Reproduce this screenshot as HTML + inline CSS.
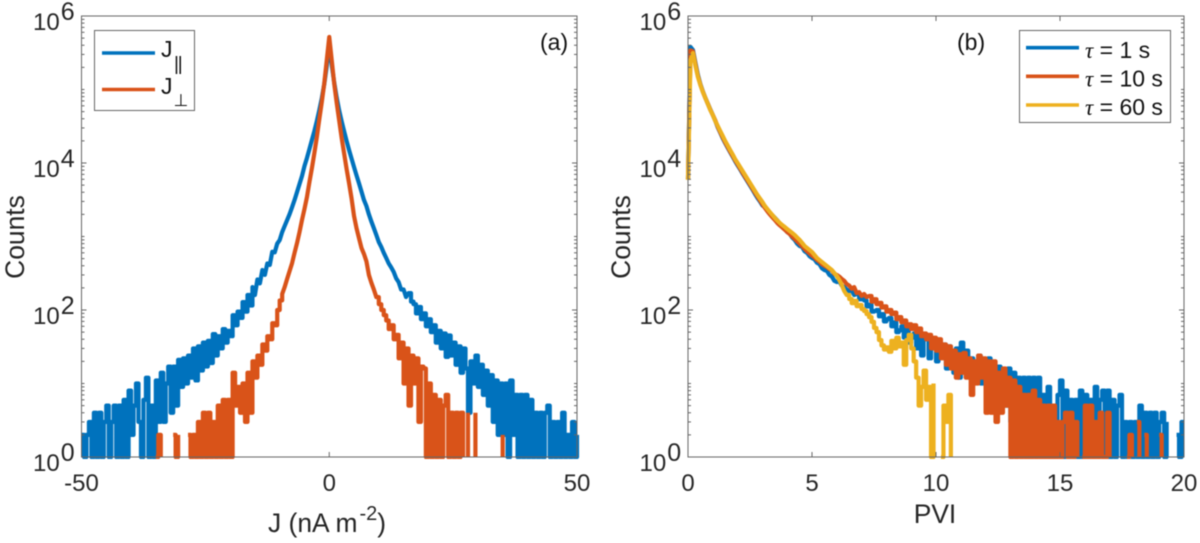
<!DOCTYPE html>
<html lang="en">
<head>
<meta charset="utf-8">
<title>Current density and PVI histograms</title>
<style>
html,body{margin:0;padding:0;background:#fff;width:1200px;height:543px;overflow:hidden}
svg{display:block;filter:blur(0.4px)}
text{font-family:"Liberation Sans",Arial,sans-serif;fill:#262626}
.tick{font-size:24px}
.exp{font-size:25px}
.lab{font-size:26.4px}
.leg{font-size:23px;fill:#111}
</style>
</head>
<body>
<svg id="figure" xmlns="http://www.w3.org/2000/svg" width="1200" height="543" viewBox="0 0 1200 543">
  <defs>
    <clipPath id="clipA"><rect x="76" y="10" width="506" height="449"/></clipPath>
    <clipPath id="clipB"><rect x="684" y="10" width="504" height="449"/></clipPath>
  </defs>
  <rect x="0" y="0" width="1200" height="543" fill="#fff"/>
  <g id="panelA"></g>
  <g id="panelB"></g>

  <text class="lab" x="268" y="532">J (nA m<tspan font-size="20" dx="2" dy="-12">-2</tspan><tspan dy="12">)</tspan></text>
  <text class="lab" transform="translate(24,237) rotate(-90)" text-anchor="middle">Counts</text>
  <text class="lab" x="935" y="523" text-anchor="middle">PVI</text>
  <text class="lab" transform="translate(630,237) rotate(-90)" text-anchor="middle">Counts</text>
  <text class="leg" x="540" y="50">(a)</text>
  <text class="leg" x="957" y="50">(b)</text>

  <g>
    <rect x="94.5" y="30.5" width="100" height="80" fill="#fff" stroke="#666" stroke-width="1"/>
    <line x1="102" x2="155" y1="53" y2="53" stroke="#0072BD" stroke-width="3.6"/>
    <text class="leg" x="161" y="57">J</text>
    <text x="174" y="70" font-size="19" letter-spacing="-1.2" style="fill:#111">||</text>
    <line x1="102" x2="155" y1="89.5" y2="89.5" stroke="#D95319" stroke-width="3.6"/>
    <text class="leg" x="161" y="94">J</text>
    <text x="173.5" y="106" font-size="17" style="font-family:'DejaVu Sans',sans-serif;fill:#111">⊥</text>
  </g>

  <g>
    <rect x="1019.5" y="30.5" width="151" height="92" fill="#fff" stroke="#666" stroke-width="1"/>
    <line x1="1026" x2="1079" y1="47.7" y2="47.7" stroke="#0072BD" stroke-width="3.6"/>
    <text class="leg" x="1085" y="58"><tspan font-family="Liberation Serif" font-style="italic">τ</tspan> = 1 s</text>
    <line x1="1026" x2="1079" y1="76.3" y2="76.3" stroke="#D95319" stroke-width="3.6"/>
    <text class="leg" x="1085" y="86.7"><tspan font-family="Liberation Serif" font-style="italic">τ</tspan> = 10 s</text>
    <line x1="1026" x2="1079" y1="105" y2="105" stroke="#EDB120" stroke-width="3.6"/>
    <text class="leg" x="1085" y="115"><tspan font-family="Liberation Serif" font-style="italic">τ</tspan> = 60 s</text>
  </g>
</svg>

<script>
// Tick values
const xTicksA = [-50, 0, 50];
const xTicksB = [0, 5, 10, 15, 20];
const yTickExponents = [0, 2, 4, 6];

// Bins
const jBinStart = -50;
const jBinStep = 0.5;
const pviBinStart = 0;
const pviBinStep = 0.1;

// Panel (a): counts per J bin
const jParallelCounts = [
  2,1,2,3,1,4,1,4,1,3,
  5,1,3,5,1,5,1,6,1,8,
  2,5,10,3,1,6,12,1,5,1,
  11,3,14,3,10,17,4,17,5,21,
  9,22,10,24,12,30,11,32,15,36,
  17,38,19,47,24,44,30,55,36,52,
  44,85,62,95,78,128,95,160,115,205,
  160,260,230,350,300,430,410,620,610,800,
  895,1150,1390,1676,2020,2510,3140,4030,5180,6650,
  9100,11700,15500,20600,27200,37300,52600,76600,119000,209000,
  443000,
  215000,125000,78000,52000,37000,27000,20000,15000,11500,8800,
  6800,5300,4100,3140,2600,2000,1600,1300,1050,840,
  720,600,510,430,380,330,270,240,190,190,
  150,170,130,120,90,110,75,90,60,75,
  50,62,36,52,30,48,23,45,24,36,
  18,32,14,30,16,4,20,10,24,9,
  18,7,15,5,13,3,11,2,10,2,
  10,1,11,2,7,1,7,1,7,1,
  6,1,4,1,4,1,4,5,1,3,
  1,3,1,4,1,2,1,3,1,2
];
const jPerpCounts = [
  0,0,0,0,0,0,0,0,0,0,
  0,0,0,0,0,0,0,0,0,0,
  0,0,0,0,0,0,1,0,0,0,
  1,2,1,0,0,0,0,2,1,2,
  0,0,0,2,1,2,1,3,1,4,
  1,4,1,3,1,5,1,6,1,6,
  1,14,5,9,4,10,3,14,4,20,
  12,24,18,34,28,44,40,66,62,100,
  135,165,205,265,340,435,600,815,1150,1680,
  2370,3440,5510,8530,13700,22600,39800,67600,122000,251000,
  518000,
  250000,120000,66000,38000,22000,13500,8300,5300,3300,1900,
  1300,950,700,580,460,300,235,190,150,120,
  100,85,72,55,62,40,46,22,36,10,
  30,5,24,10,22,3,17,16,1,10,
  1,7,1,6,1,5,7,1,4,1,
  4,1,4,1,0,4,0,0,4,0,
  0,0,0,0,0,0,0,0,0,2,
  0,0,0,0,0,0,0,0,0,0,
  0,0,0,0,0,0,0,0,0,0,
  0,0,0,0,0,0,0,0,0,0
];

// Panel (b): counts per PVI bin
const pviTau1Counts = [
  6000,380000,344000,230000,158000,118000,94000,77000,64000,53500,
  45000,37500,30500,25800,21700,18600,16100,14000,12200,10600,
  9300,8200,7200,6350,5600,4950,4350,3800,3350,3000,
  2650,2500,2330,2100,1950,1800,1660,1500,1400,1270,
  1150,1090,970,900,800,745,720,630,600,540,
  510,490,440,420,370,350,340,300,285,250,
  240,245,215,205,190,181,185,160,165,140,
  141,135,112,118,95,97,100,82,88,70,
  75,78,60,68,50,53,60,42,55,36,
  42,48,30,45,24,40,44,22,38,32,
  20,36,24,34,16,32,22,14,30,12,
  36,16,28,15,22,20,12,24,10,20,
  14,22,9,18,8,17,6,15,5,16,
  3,14,2,12,2,12,1,12,1,12,
  2,12,1,7,1,9,1,5,1,7,
  11,1,8,1,6,1,6,1,8,1,
  7,1,6,1,9,1,6,8,1,8,
  1,6,1,5,7,1,3,1,3,1,
  3,1,5,1,4,1,4,1,4,1,
  3,4,1,3,0,0,0,2,1,3,
  3
];
const pviTau10Counts = [
  6000,340000,330000,220000,152000,116000,93000,76500,64000,53000,
  45000,38000,31000,26200,22300,19000,16500,14300,12500,10900,
  9600,8400,7400,6500,5750,5100,4500,3950,3500,3100,
  2750,2450,2200,2000,1830,1680,1530,1420,1330,1240,
  1150,1080,1000,930,860,800,740,680,630,590,
  550,520,480,455,420,400,385,360,345,310,
  300,285,265,250,225,215,195,205,170,175,
  155,165,150,155,130,140,120,125,108,112,
  95,100,88,92,75,80,68,72,60,64,
  55,62,50,56,44,48,40,46,30,42,
  28,40,22,34,18,32,16,28,12,25,
  14,26,12,22,7,20,10,24,12,22,
  4,20,4,20,3,14,4,16,5,12,
  1,11,1,9,1,7,1,7,1,8,
  1,6,1,5,1,5,1,5,1,3,
  1,3,4,1,4,1,3,1,0,1,
  5,1,5,1,3,1,4,1,1,4,
  1,0,0,0,0,0,0,1,2,1,
  0,3,1,0,2,1,0,0,0,0,
  2,1,0,0,0,0,0,0,0,0,
  0
];
const pviTau60Counts = [
  5900,250000,314000,209000,148000,115000,92500,76600,63500,52500,
  45000,37200,31900,27200,23300,19900,17300,15000,13100,11300,
  10000,8830,7780,6870,6060,5350,4710,4160,3670,3290,
  2950,2600,2360,2150,1960,1790,1650,1530,1430,1350,
  1260,1190,1120,1050,970,900,820,743,698,655,
  615,560,510,479,450,423,397,373,350,319,
  290,256,219,181,160,141,124,133,113,117,
  103,97,88,80,69,57,50,39,33,29,
  31,27,38,30,42,32,36,18,39,46,
  30,20,12,5,9,15,6,9,1,10,
  0,0,1,5,3,7,1
];

const SVGNS = 'http://www.w3.org/2000/svg';
const plotTop = 16;
const plotBottom = 457;
const seriesWidth = 4.2;
const stepBelow = 150;
const panelA = {g: document.getElementById('panelA'), left: 81.5, right: 577, min: -50, max: 50, clip: 'url(#clipA)'};
const panelB = {g: document.getElementById('panelB'), left: 688, right: 1184, min: 0, max: 20, clip: 'url(#clipB)'};

function xScale(p, v) {
  return p.left + (v - p.min) / (p.max - p.min) * (p.right - p.left);
}
function yScale(c) {
  return plotBottom - (Math.log10(c) / 6) * (plotBottom - plotTop);
}
function node(tag, parent) {
  const el = document.createElementNS(SVGNS, tag);
  parent.appendChild(el);
  return el;
}
function seg(parent, x1, y1, x2, y2) {
  const l = node('line', parent);
  l.setAttribute('x1', x1);
  l.setAttribute('y1', y1);
  l.setAttribute('x2', x2);
  l.setAttribute('y2', y2);
  l.setAttribute('stroke', '#666');
  l.setAttribute('stroke-width', '1');
  return l;
}

function drawSeries(p, counts, start, step, color, name) {
  const group = node('g', p.g);
  
  
  group.setAttribute('clip-path', p.clip);
  let pts = [];
  let prev = 0;
  const flush = () => {
    if (pts.length > 0) {
      if (pts.length === 1) {
        // an isolated occupied bin is shown as a column down to the baseline
        pts.push(pts[0].split(',')[0] + ',' + plotBottom);
      }
      const line = node('polyline', group);
      
      
      line.setAttribute('points', pts.join(' '));
      line.setAttribute('fill', 'none');
      line.setAttribute('stroke', color);
      line.setAttribute('stroke-width', seriesWidth);
      line.setAttribute('stroke-linejoin', 'round');
    }
    pts = [];
  };
  counts.forEach((c, i) => {
    if (c > 0) {
      const x = xScale(p, start + i * step).toFixed(2);
      if (pts.length > 0 && Math.min(prev, c) < stepBelow) {
        pts.push(x + ',' + yScale(prev).toFixed(2));
      }
      pts.push(x + ',' + yScale(c).toFixed(2));
      prev = c;
    } else {
      flush();
    }
  });
  flush();
}

function drawAxes(p, xTicks, suffix) {
  const g = node('g', p.g);
  
  

  const box = node('rect', g);
  
  
  box.setAttribute('x', p.left);
  box.setAttribute('y', plotTop);
  box.setAttribute('width', p.right - p.left);
  box.setAttribute('height', plotBottom - plotTop);
  box.setAttribute('fill', 'none');
  box.setAttribute('stroke', '#666');
  box.setAttribute('stroke-width', '1');

  xTicks.forEach(v => {
    const x = xScale(p, v);
    const t1 = seg(g, x, plotBottom, x, plotBottom - 5);
    
    
    const t2 = seg(g, x, plotTop, x, plotTop + 5);
    
    
    const label = node('text', g);
    
    
    label.setAttribute('class', 'tick');
    label.setAttribute('x', x);
    label.setAttribute('y', 491);
    label.setAttribute('text-anchor', 'middle');
    label.textContent = String(v);
  });

  for (let d = 0; d < 6; d++) {
    for (let m = 1; m < 10; m++) {
      const y = yScale(m * Math.pow(10, d));
      const len = (m === 1 && d % 2 === 0) ? 5 : 3;
      const a = seg(g, p.left, y, p.left + len, y);
      
      
      const b = seg(g, p.right, y, p.right - len, y);
      
      
    }
  }

  yTickExponents.forEach(e => {
    const y = yScale(Math.pow(10, e));
    const label = node('text', g);
    
    
    label.setAttribute('class', 'tick');
    label.setAttribute('x', p.left - 48.5);
    label.setAttribute('y', y + 14);
    label.textContent = '10';
    const sup = node('tspan', label);
    sup.setAttribute('class', 'exp');
    sup.setAttribute('dy', '-10');
    sup.setAttribute('dx', '1');
    sup.textContent = String(e);
  });
}

drawSeries(panelA, jParallelCounts, jBinStart, jBinStep, '#0072BD', 'series-j-parallel');
drawSeries(panelA, jPerpCounts, jBinStart, jBinStep, '#D95319', 'series-j-perp');
drawAxes(panelA, xTicksA, 'a');

drawSeries(panelB, pviTau1Counts, pviBinStart, pviBinStep, '#0072BD', 'series-tau-1');
drawSeries(panelB, pviTau10Counts, pviBinStart, pviBinStep, '#D95319', 'series-tau-10');
drawSeries(panelB, pviTau60Counts, pviBinStart, pviBinStep, '#EDB120', 'series-tau-60');
drawAxes(panelB, xTicksB, 'b');
</script>
</body>
</html>
